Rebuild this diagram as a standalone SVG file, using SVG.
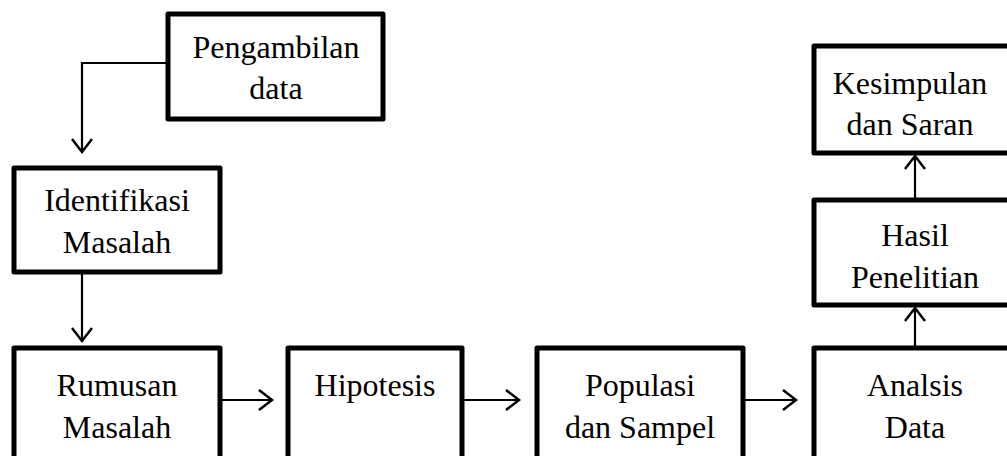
<svg xmlns="http://www.w3.org/2000/svg" width="1007" height="456" viewBox="0 0 1007 456">
<defs>
<marker id="arr" markerUnits="userSpaceOnUse" markerWidth="30" markerHeight="30" viewBox="-15 -15 30 30" refX="0" refY="0" orient="auto">
<path d="M-13,-10 L0,0 L-13,10" fill="none" stroke="#000" stroke-width="2.5"/>
</marker>
</defs>
<style>
.box{fill:#fff;stroke:#000;stroke-width:5;stroke-linejoin:round}
.t{font-family:"Liberation Serif","Times New Roman",serif;font-size:32px;fill:#000;text-anchor:middle}
.c{fill:none;stroke:#000;stroke-width:2.2;marker-end:url(#arr)}
</style>
<rect width="1007" height="456" fill="#fff"/>
<g id="connectors">
<path class="c" d="M168,63 H82 V152"/>
<path class="c" d="M82,272 V341"/>
<path class="c" d="M220,400 H272"/>
<path class="c" d="M462,400 H519"/>
<path class="c" d="M743,400 H796"/>
<path class="c" d="M915,348 V308"/>
<path class="c" d="M915,200 V156"/>
</g>
<g id="pengambilan">
<rect class="box" x="168" y="14" width="215" height="105"/>
<text class="t" x="276" y="58">Pengambilan</text>
<text class="t" x="276" y="99">data</text>
</g>
<g id="identifikasi">
<rect class="box" x="14" y="168" width="206" height="104"/>
<text class="t" x="117" y="211">Identifikasi</text>
<text class="t" x="117" y="253">Masalah</text>
</g>
<g id="rumusan">
<rect class="box" x="14" y="348" width="206" height="120"/>
<text class="t" x="117" y="396">Rumusan</text>
<text class="t" x="117" y="438">Masalah</text>
</g>
<g id="hipotesis">
<rect class="box" x="288" y="348" width="174" height="120"/>
<text class="t" x="375" y="396">Hipotesis</text>
</g>
<g id="populasi">
<rect class="box" x="537" y="348" width="206" height="120"/>
<text class="t" x="640" y="396">Populasi</text>
<text class="t" x="640" y="438">dan Sampel</text>
</g>
<g id="analsis">
<rect class="box" x="814" y="348" width="204" height="120"/>
<text class="t" x="915" y="396">Analsis</text>
<text class="t" x="915" y="438">Data</text>
</g>
<g id="hasil">
<rect class="box" x="814" y="200" width="204" height="105"/>
<text class="t" x="915" y="246">Hasil</text>
<text class="t" x="915" y="288">Penelitian</text>
</g>
<g id="kesimpulan">
<rect class="box" x="814" y="46" width="204" height="107"/>
<text class="t" x="910" y="94">Kesimpulan</text>
<text class="t" x="910" y="135">dan Saran</text>
</g>
</svg>
